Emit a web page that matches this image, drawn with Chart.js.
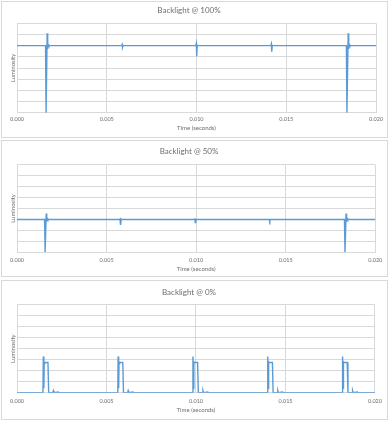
<!DOCTYPE html>
<html>
<head>
<meta charset="utf-8">
<script src="https://cdn.jsdelivr.net/npm/chart.js@4.4.1/dist/chart.umd.min.js"></script>
<style>
  html, body { margin: 0; padding: 0; background: #ffffff; }
  body { width: 390px; height: 421px; position: relative; overflow: hidden; }
  .panel { position: absolute; left: 1px; width: 385px; border: 1px solid #d9d9d9; background: #fff; }
  .panel canvas { display: block; }
</style>
</head>
<body>
<div class="panel" id="p1" style="top:1px;height:135px;"><canvas id="c1"></canvas></div>
<div class="panel" id="p2" style="top:140px;height:135px;"><canvas id="c2"></canvas></div>
<div class="panel" id="p3" style="top:280px;height:138px;"><canvas id="c3"></canvas></div>
<script>
// ---- Data ----
const titles = ["Backlight @ 100%", "Backlight @ 50%", "Backlight @ 0%"];
const xAxisTitle = "Time (seconds)";
const yAxisTitle = "Luminosity";
const xTicks = [0.000, 0.005, 0.010, 0.015, 0.020];

const time100 = [0, 0.00159, 0.00162, 0.00168, 0.00171, 0.00174, 0.00177,
  0.00583, 0.00586, 0.00588, 0.00591,
  0.00996, 0.00999, 0.01001, 0.01004,
  0.01414, 0.01417, 0.01419, 0.01422,
  0.01835, 0.01838, 0.01845, 0.01848, 0.01851, 0.01854, 0.020];
const lum100 = [6, 6, 0, 7.1, 5.7, 6.1, 6,
  6, 6.1, 5.85, 6,
  6, 6.2, 5.05, 6,
  6, 6.15, 5.45, 6,
  6, 0, 7.1, 5.7, 6.1, 6, 6];

const time50 = [0, 0.00154, 0.00157, 0.00163, 0.00166, 0.00169, 0.00172,
  0.00575, 0.00577, 0.00579, 0.00582,
  0.00991, 0.00993, 0.00995, 0.00998,
  0.01408, 0.01411, 0.01414,
  0.01828, 0.01831, 0.01837, 0.01840, 0.01843, 0.01846, 0.020];
const lum50 = [3, 3, 0, 3.55, 2.8, 3.1, 3,
  3, 3.15, 2.5, 3,
  3, 3.1, 2.72, 3,
  3, 2.85, 3,
  3, 0, 3.55, 2.8, 3.1, 3, 3];

const time0 = [0,
  0.00145, 0.00147, 0.00150, 0.00152, 0.00155, 0.00173, 0.00177, 0.00200, 0.00203, 0.00206, 0.00230, 0.00233,
  0.00563, 0.00565, 0.00568, 0.00570, 0.00573, 0.00591, 0.00595, 0.00618, 0.00621, 0.00624, 0.00648, 0.00651,
  0.00981, 0.00983, 0.00986, 0.00988, 0.00991, 0.01009, 0.01013, 0.01036, 0.01039, 0.01042, 0.01066, 0.01069,
  0.01399, 0.01401, 0.01404, 0.01406, 0.01409, 0.01427, 0.01431, 0.01454, 0.01457, 0.01460, 0.01484, 0.01487,
  0.01817, 0.01819, 0.01822, 0.01824, 0.01827, 0.01845, 0.01849, 0.01872, 0.01875, 0.01878, 0.01902, 0.01905,
  0.020];
const lum0 = [0,
  0, 3.3, 0.4, 2.8, 2.75, 2.75, 0, 0, 0.18, 0, 0.06, 0,
  0, 3.3, 0.4, 2.8, 2.75, 2.75, 0, 0, 0.18, 0, 0.06, 0,
  0, 3.3, 0.4, 2.8, 2.75, 2.75, 0, 0, 0.18, 0, 0.06, 0,
  0, 3.3, 0.4, 2.8, 2.75, 2.75, 0, 0, 0.18, 0, 0.06, 0,
  0, 3.3, 0.4, 2.8, 2.75, 2.75, 0, 0, 0.18, 0, 0.06, 0,
  0];

// ---- Layout (per panel, canvas coords) ----
const panels = [
  { id: "c1", w: 385, h: 135, title: titles[0], xs: time100, ys: lum100,
    titleCenter: 8, plotTop: 21.3, plotBottom: 110.7, tickPad: 3.3, xTitleFromBottom: 9 },
  { id: "c2", w: 385, h: 135, title: titles[1], xs: time50, ys: lum50,
    titleCenter: 10, plotTop: 23.7, plotBottom: 111.3, tickPad: 4.7, xTitleFromBottom: 7 },
  { id: "c3", w: 385, h: 138, title: titles[2], xs: time0, ys: lum0,
    titleCenter: 11, plotTop: 23.7, plotBottom: 111.7, tickPad: 5, xTitleFromBottom: 9.3 }
];

const FONT = "Lato, 'Open Sans', 'DejaVu Sans', sans-serif";
const GRID = "#d9d9d9";
const TEXT = "#6e6e6e";
const LINE = "#5b9bd5";

panels.forEach(p => {
  const cv = document.getElementById(p.id);
  cv.width = p.w; cv.height = p.h;
  cv.style.width = p.w + "px"; cv.style.height = p.h + "px";
  const titleSize = 8, titleLH = titleSize * 1.2;
  const axSize = 6, axLH = axSize * 1.2;
  const points = p.xs.map((x, i) => ({ x: x, y: p.ys[i] }));
  new Chart(cv, {
    type: "line",
    data: { datasets: [{
      data: points,
      borderColor: LINE,
      borderWidth: 1.4,
      pointRadius: 0,
      tension: 0,
      fill: false
    }]},
    options: {
      responsive: false,
      animation: false,
      devicePixelRatio: 1,
      layout: { padding: { left: 0, right: 11, top: 0, bottom: 0 } },
      plugins: {
        legend: { display: false },
        tooltip: { enabled: false },
        title: {
          display: true,
          text: p.title,
          color: TEXT,
          font: { family: FONT, size: titleSize, weight: "normal", lineHeight: 1.2 },
          padding: { top: p.titleCenter - titleLH / 2, bottom: p.plotTop - p.titleCenter - titleLH / 2 }
        }
      },
      scales: {
        x: {
          type: "linear",
          min: 0, max: 0.02,
          afterBuildTicks: s => { s.ticks = xTicks.map(v => ({ value: v })); },
          ticks: {
            color: TEXT,
            font: { family: FONT, size: 5.5 },
            padding: p.tickPad,
            maxRotation: 0,
            callback: v => Number(v).toFixed(3)
          },
          grid: { color: GRID, lineWidth: 1, drawTicks: false },
          border: { color: GRID },
          title: {
            display: true, text: xAxisTitle, color: TEXT,
            font: { family: FONT, size: axSize, lineHeight: 1.2 },
            padding: { top: 0, bottom: p.xTitleFromBottom - axLH / 2 }
          },
          afterFit: s => { s.height = p.h - p.plotBottom; }
        },
        y: {
          min: 0, max: 8,
          ticks: { display: false, stepSize: 1 },
          grid: { color: GRID, lineWidth: 1, drawTicks: false },
          border: { color: GRID },
          title: {
            display: true, text: yAxisTitle, color: TEXT,
            font: { family: FONT, size: axSize, lineHeight: 1.2 },
            padding: { top: 11 - axLH / 2, bottom: 0 }
          },
          afterFit: s => { s.width = 15; }
        }
      }
    }
  });
});
</script>
</body>
</html>
